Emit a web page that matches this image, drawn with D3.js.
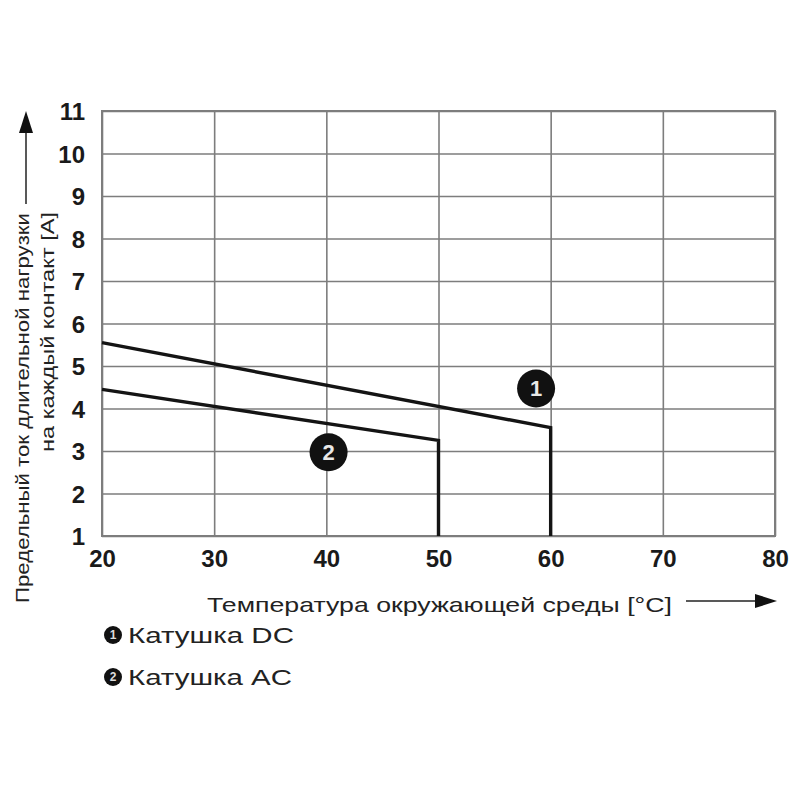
<!DOCTYPE html>
<html>
<head>
<meta charset="utf-8">
<script src="https://cdn.jsdelivr.net/npm/d3@7"></script>
<style>
  body { margin: 0; background: #fff; }
  svg { display: block; font-family: "Liberation Sans", Arial, sans-serif; }
</style>
</head>
<body>
<script>
// x ticks - temperature, y ticks - current
var temps = [20, 30, 40, 50, 60, 70, 80];
var currents = [1, 2, 3, 4, 5, 6, 7, 8, 9, 10, 11];

// curve 1 - DC coil
var dcTemp = [20, 60, 60];
var dcCurrent = [5.55, 3.55, 1];
// curve 2 - AC coil
var acTemp = [20, 50, 50];
var acCurrent = [4.45, 3.25, 1];

// numbered markers on the chart
var markerLabels = ['1', '2'];
var markerTemp = [58.7, 40.2];
var markerCurrent = [4.47, 2.97];

var legendLabels = ['Катушка DC', 'Катушка AC'];

var W = 800, H = 800;
var plot = { left: 102, right: 775, top: 111, bottom: 536 };

var svg = d3.select("body").append("svg")
    .attr("width", W)
    .attr("height", H);

var x = d3.scaleLinear().domain([20, 80]).range([plot.left, plot.right]);
var y = d3.scaleLinear().domain([1, 11]).range([plot.bottom, plot.top]);

var gridColor = '#7d7d7d';

// y axis with gridlines
var yAxis = svg.append("g")
    .attr("transform", "translate(" + plot.left + ",0)")
    .call(d3.axisLeft(y).tickValues(currents).tickSize(-(plot.right - plot.left)).tickPadding(17));
// x axis with gridlines
var xAxis = svg.append("g")
    .attr("transform", "translate(0," + plot.bottom + ")")
    .call(d3.axisBottom(x).tickValues(temps).tickSize(-(plot.bottom - plot.top)).tickPadding(14));

[xAxis, yAxis].forEach(function(ax) {
    ax.select(".domain").remove();
    ax.selectAll(".tick line")
        .style("stroke", gridColor)
        .style("stroke-width", 1.6);
    ax.selectAll(".tick text")
        .style("font-family", '"Liberation Sans", Arial, sans-serif')
        .style("font-size", "24px")
        .style("font-weight", "bold")
        .style("fill", "#1a1a1a");
});
yAxis.selectAll(".tick text").attr("dy", "0.36em");

// frame
svg.append("rect")
    .attr("x", plot.left).attr("y", plot.top)
    .attr("width", plot.right - plot.left).attr("height", plot.bottom - plot.top)
    .style("fill", "none").style("stroke", gridColor).style("stroke-width", 2);

var line = d3.line()
    .x(function(d) { return x(d[0]); })
    .y(function(d) { return y(d[1]); });

var curves = [d3.zip(dcTemp, dcCurrent), d3.zip(acTemp, acCurrent)];
svg.selectAll("path.curve").data(curves)
    .enter().append("path")
    .attr("class", "curve")
    .attr("d", line)
    .style("fill", "none")
    .style("stroke", "#141414")
    .style("stroke-width", 3.4)
    .style("stroke-linejoin", "miter");

// numbered circles
var markers = svg.selectAll("g.marker").data(markerLabels)
    .enter().append("g")
    .attr("class", "marker")
    .attr("transform", function(d, i) {
        return "translate(" + x(markerTemp[i]) + "," + y(markerCurrent[i]) + ")";
    });
markers.append("circle").attr("r", 19).style("fill", "#111");
markers.append("text")
    .attr("text-anchor", "middle")
    .attr("dy", "0.36em")
    .style("fill", "#e8e8e8")
    .style("font-size", "22px")
    .style("font-weight", "bold")
    .text(function(d) { return d; });

// x axis title + arrow
svg.append("text")
    .attr("x", 207).attr("y", 612)
    .attr("textLength", 465).attr("lengthAdjust", "spacingAndGlyphs")
    .style("font-size", "21px")
    .style("fill", "#222")
    .text("Температура окружающей среды [°C]");
svg.append("line")
    .attr("x1", 686).attr("y1", 601).attr("x2", 760).attr("y2", 601)
    .style("stroke", "#222").style("stroke-width", 1.5);
svg.append("path")
    .attr("d", "M755,594L777,601L755,608Z")
    .style("fill", "#111");

// y axis title (two lines) + arrow
svg.append("text")
    .attr("transform", "translate(29,603) rotate(-90)")
    .attr("textLength", 390).attr("lengthAdjust", "spacingAndGlyphs")
    .style("font-size", "19px")
    .style("fill", "#222")
    .text("Предельный ток длительной нагрузки");
svg.append("text")
    .attr("transform", "translate(54,452) rotate(-90)")
    .attr("textLength", 240).attr("lengthAdjust", "spacingAndGlyphs")
    .style("font-size", "19px")
    .style("fill", "#222")
    .text("на каждый контакт [A]");
svg.append("line")
    .attr("x1", 26).attr("y1", 204).attr("x2", 26).attr("y2", 128)
    .style("stroke", "#222").style("stroke-width", 1.5);
svg.append("path")
    .attr("d", "M19,133L26,111L33,133Z")
    .style("fill", "#111");

// legend
var legend = svg.selectAll("g.legend").data(legendLabels)
    .enter().append("g")
    .attr("class", "legend")
    .attr("transform", function(d, i) { return "translate(113," + (635 + i * 42) + ")"; });
legend.append("circle").attr("r", 9).style("fill", "#111");
legend.append("text")
    .attr("text-anchor", "middle")
    .attr("dy", "0.36em")
    .style("fill", "#ddd")
    .style("font-size", "12px")
    .style("font-weight", "bold")
    .text(function(d, i) { return markerLabels[i]; });
legend.append("text")
    .attr("x", 15).attr("y", 8)
    .attr("textLength", function(d, i) { return i == 0 ? 166 : 164; })
    .attr("lengthAdjust", "spacingAndGlyphs")
    .style("font-size", "22px")
    .style("fill", "#222")
    .text(function(d) { return d; });
</script>
</body>
</html>
